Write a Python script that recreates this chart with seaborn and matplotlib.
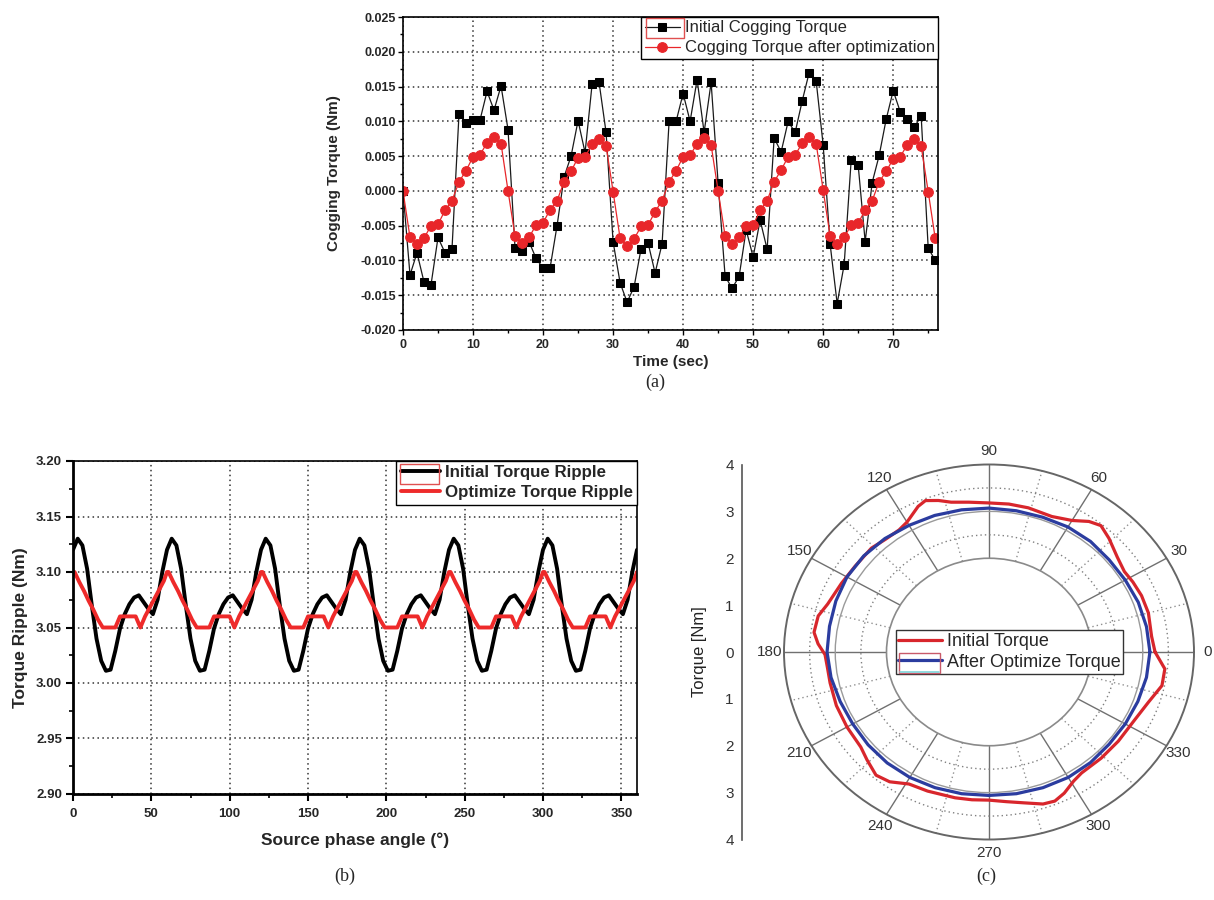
import numpy as np
import pandas as pd
import matplotlib
matplotlib.use("Agg")
import matplotlib.pyplot as plt
import seaborn as sns
from matplotlib.ticker import MultipleLocator, FixedLocator
from matplotlib.patches import Rectangle
from matplotlib.lines import Line2D

# ---------------- data: panel (a) ----------------
time_sec = [0, 1, 2, 3, 4, 5, 6, 7, 8, 9, 10, 11, 12, 13, 14, 15, 16, 17, 18, 19,
            20, 21, 22, 23, 24, 25, 26, 27, 28, 29, 30, 31, 32, 33, 34, 35, 36, 37, 38, 39,
            40, 41, 42, 43, 44, 45, 46, 47, 48, 49, 50, 51, 52, 53, 54, 55, 56, 57, 58, 59,
            60, 61, 62, 63, 64, 65, 66, 67, 68, 69, 70, 71, 72, 73, 74, 75, 76]
initial_cogging = [0.0000, -0.0121, -0.0089, -0.0131, -0.0135, -0.0067, -0.0089, -0.0083, 0.0111, 0.0098,
                   0.0102, 0.0102, 0.0143, 0.0116, 0.0151, 0.0088, -0.0082, -0.0086, -0.0073, -0.0097,
                   -0.0111, -0.0111, -0.0050, 0.0020, 0.0050, 0.0101, 0.0055, 0.0153, 0.0156, 0.0084,
                   -0.0073, -0.0132, -0.0160, -0.0138, -0.0083, -0.0075, -0.0118, -0.0076, 0.0100, 0.0100,
                   0.0140, 0.0100, 0.0160, 0.0084, 0.0156, 0.0011, -0.0123, -0.0140, -0.0123, -0.0056,
                   -0.0095, -0.0042, -0.0084, 0.0076, 0.0056, 0.0100, 0.0084, 0.0129, 0.0170, 0.0158,
                   0.0066, -0.0077, -0.0162, -0.0106, 0.0044, 0.0037, -0.0073, 0.0012, 0.0051, 0.0103,
                   0.0144, 0.0114, 0.0103, 0.0092, 0.0107, -0.0082, -0.0100]
optimized_cogging = [0.0000, -0.0067, -0.0077, -0.0068, -0.0050, -0.0048, -0.0028, -0.0014, 0.0013, 0.0029,
                     0.0049, 0.0052, 0.0069, 0.0078, 0.0068, 0.0000, -0.0065, -0.0075, -0.0067, -0.0049,
                     -0.0046, -0.0027, -0.0014, 0.0013, 0.0028, 0.0048, 0.0049, 0.0067, 0.0075, 0.0065,
                     -0.0001, -0.0068, -0.0079, -0.0069, -0.0051, -0.0049, -0.0030, -0.0014, 0.0013, 0.0029,
                     0.0049, 0.0051, 0.0068, 0.0076, 0.0066, 0.0000, -0.0065, -0.0076, -0.0067, -0.0050,
                     -0.0049, -0.0028, -0.0014, 0.0013, 0.0030, 0.0049, 0.0051, 0.0069, 0.0078, 0.0068,
                     0.0001, -0.0065, -0.0076, -0.0067, -0.0049, -0.0046, -0.0028, -0.0014, 0.0013, 0.0028,
                     0.0046, 0.0049, 0.0066, 0.0075, 0.0064, -0.0001, -0.0068]
a_xticks = [0, 10, 20, 30, 40, 50, 60, 70]
a_yticks = [-0.020, -0.015, -0.010, -0.005, 0.000, 0.005, 0.010, 0.015, 0.020, 0.025]
a_ytick_labels = ["-0.020", "-0.015", "-0.010", "-0.005", "0.000", "0.005", "0.010", "0.015", "0.020", "0.025"]

# ---------------- data: panel (b) ----------------
b_initial_angle = [0, 3, 6, 9, 12, 15, 18, 21, 24, 27, 30, 33, 36, 39, 42, 45, 48, 51, 54, 57,
                   60, 63, 66, 69, 72, 75, 78, 81, 84, 87, 90, 93, 96, 99, 102, 105, 108, 111, 114, 117,
                   120, 123, 126, 129, 132, 135, 138, 141, 144, 147, 150, 153, 156, 159, 162, 165, 168, 171, 174, 177,
                   180, 183, 186, 189, 192, 195, 198, 201, 204, 207, 210, 213, 216, 219, 222, 225, 228, 231, 234, 237,
                   240, 243, 246, 249, 252, 255, 258, 261, 264, 267, 270, 273, 276, 279, 282, 285, 288, 291, 294, 297,
                   300, 303, 306, 309, 312, 315, 318, 321, 324, 327, 330, 333, 336, 339, 342, 345, 348, 351, 354, 357,
                   360]
b_initial_ripple = [3.120, 3.130, 3.124, 3.103, 3.070, 3.040, 3.020, 3.011, 3.012, 3.029, 3.049, 3.062, 3.071, 3.077, 3.079, 3.073, 3.067, 3.062, 3.075, 3.100,
                    3.120, 3.130, 3.124, 3.103, 3.070, 3.040, 3.020, 3.011, 3.012, 3.029, 3.049, 3.062, 3.071, 3.077, 3.079, 3.073, 3.067, 3.062, 3.075, 3.100,
                    3.120, 3.130, 3.124, 3.103, 3.070, 3.040, 3.020, 3.011, 3.012, 3.029, 3.049, 3.062, 3.071, 3.077, 3.079, 3.073, 3.067, 3.062, 3.075, 3.100,
                    3.120, 3.130, 3.124, 3.103, 3.070, 3.040, 3.020, 3.011, 3.012, 3.029, 3.049, 3.062, 3.071, 3.077, 3.079, 3.073, 3.067, 3.062, 3.075, 3.100,
                    3.120, 3.130, 3.124, 3.103, 3.070, 3.040, 3.020, 3.011, 3.012, 3.029, 3.049, 3.062, 3.071, 3.077, 3.079, 3.073, 3.067, 3.062, 3.075, 3.100,
                    3.120, 3.130, 3.124, 3.103, 3.070, 3.040, 3.020, 3.011, 3.012, 3.029, 3.049, 3.062, 3.071, 3.077, 3.079, 3.073, 3.067, 3.062, 3.075, 3.100,
                    3.120]
b_optimized_angle = [0, 1, 4, 7, 10, 13, 16, 19, 27, 30, 40, 43, 46, 49, 52, 55, 58,
                     60, 61, 64, 67, 70, 73, 76, 79, 87, 90, 100, 103, 106, 109, 112, 115, 118,
                     120, 121, 124, 127, 130, 133, 136, 139, 147, 150, 160, 163, 166, 169, 172, 175, 178,
                     180, 181, 184, 187, 190, 193, 196, 199, 207, 210, 220, 223, 226, 229, 232, 235, 238,
                     240, 241, 244, 247, 250, 253, 256, 259, 267, 270, 280, 283, 286, 289, 292, 295, 298,
                     300, 301, 304, 307, 310, 313, 316, 319, 327, 330, 340, 343, 346, 349, 352, 355, 358,
                     360]
b_optimized_ripple = [3.100, 3.100, 3.091, 3.083, 3.074, 3.066, 3.057, 3.050, 3.050, 3.060, 3.060, 3.050, 3.060, 3.068, 3.076, 3.084, 3.092,
                      3.100, 3.100, 3.091, 3.083, 3.074, 3.066, 3.057, 3.050, 3.050, 3.060, 3.060, 3.050, 3.060, 3.068, 3.076, 3.084, 3.092,
                      3.100, 3.100, 3.091, 3.083, 3.074, 3.066, 3.057, 3.050, 3.050, 3.060, 3.060, 3.050, 3.060, 3.068, 3.076, 3.084, 3.092,
                      3.100, 3.100, 3.091, 3.083, 3.074, 3.066, 3.057, 3.050, 3.050, 3.060, 3.060, 3.050, 3.060, 3.068, 3.076, 3.084, 3.092,
                      3.100, 3.100, 3.091, 3.083, 3.074, 3.066, 3.057, 3.050, 3.050, 3.060, 3.060, 3.050, 3.060, 3.068, 3.076, 3.084, 3.092,
                      3.100, 3.100, 3.091, 3.083, 3.074, 3.066, 3.057, 3.050, 3.050, 3.060, 3.060, 3.050, 3.060, 3.068, 3.076, 3.084, 3.092,
                      3.100]
b_xticks = [0, 50, 100, 150, 200, 250, 300, 350]
b_yticks = [2.90, 2.95, 3.00, 3.05, 3.10, 3.15, 3.20]
b_ytick_labels = ["2.90", "2.95", "3.00", "3.05", "3.10", "3.15", "3.20"]

# ---------------- data: panel (c) ----------------
c_initial_theta = [0, 6, 15, 22, 28, 33, 39, 46, 51, 55, 60, 67, 76, 83, 90, 97, 103, 107, 111, 114, 120, 124,
                   130, 136, 145, 153, 162, 167, 173, 177, 181, 186, 192, 201, 210, 219, 224, 230, 235, 241, 248, 258, 264, 270,
                   276, 282, 288, 292, 296, 301, 305, 314, 323, 333, 341, 348, 354, 360]
c_initial_torque = [3.24, 3.19, 3.22, 3.21, 3.18, 3.15, 3.22, 3.37, 3.47, 3.40, 3.24, 3.14, 3.17, 3.18, 3.18, 3.22, 3.28, 3.38, 3.46, 3.40, 3.20, 3.14,
                    3.14, 3.19, 3.19, 3.23, 3.31, 3.42, 3.44, 3.34, 3.20, 3.17, 3.17, 3.19, 3.20, 3.22, 3.31, 3.43, 3.38, 3.22, 3.20, 3.18, 3.17, 3.16,
                    3.21, 3.29, 3.41, 3.43, 3.35, 3.21, 3.15, 3.15, 3.16, 3.19, 3.29, 3.45, 3.45, 3.24]
c_optimized_theta = [0, 10, 20, 30, 40, 50, 60, 70, 80, 90, 100, 110, 120, 130, 140, 150, 160, 170, 180,
                     190, 200, 210, 220, 230, 240, 250, 260, 270, 280, 290, 300, 310, 320, 330, 340, 350, 360]
c_optimized_torque = [3.14, 3.12, 3.10, 3.07, 3.06, 3.08, 3.08, 3.06, 3.06, 3.07, 3.08, 3.10, 3.12, 3.16, 3.19, 3.20, 3.18, 3.16, 3.16,
                      3.13, 3.09, 3.07, 3.08, 3.09, 3.09, 3.08, 3.07, 3.06, 3.07, 3.08, 3.09, 3.08, 3.06, 3.07, 3.09, 3.12, 3.14]
c_theta_ticks = [0, 30, 60, 90, 120, 150, 180, 210, 240, 270, 300, 330]
c_theta_minor = [15, 45, 75, 105, 135, 165, 195, 225, 255, 285, 315, 345]
c_theta_labels = ["0", "30", "60", "90", "120", "150", "180", "210", "240", "270", "300", "330"]
c_r_ticks = [-4, -3, -2, -1, 0, 1, 2, 3, 4]
c_r_labels = ["4", "3", "2", "1", "0", "1", "2", "3", "4"]

# ---------------- styling ----------------
sns.set_theme(style="white")
plt.rcParams["font.family"] = ["Liberation Sans", "DejaVu Sans"]
plt.rcParams["axes.unicode_minus"] = False

W, H = 1214, 900
fig = plt.figure(figsize=(W / 100, H / 100), dpi=100)
fig.patch.set_facecolor("white")


def box(l, t, r, b):
    return [l / W, 1 - b / H, (r - l) / W, (b - t) / H]


def frame_px(l, t, r, b, color, lw=1.0):
    fig.patches.append(Rectangle((l / W, 1 - b / H), (r - l) / W, (b - t) / H,
                                 transform=fig.transFigure, fill=False,
                                 edgecolor=color, lw=lw, zorder=20))


DOT = (0, (1.0, 2.2))

# ================= panel (a) =================
ax_a = fig.add_axes(box(403, 17, 938, 330))
df_a = pd.DataFrame({"time": time_sec, "init": initial_cogging, "opt": optimized_cogging})
sns.lineplot(data=df_a, x="time", y="init", ax=ax_a, color="#1a1a1a", lw=0.9, marker="s",
             markersize=6.3, markerfacecolor="black", markeredgecolor="black",
             estimator=None, label="Initial Cogging Torque")
sns.lineplot(data=df_a, x="time", y="opt", ax=ax_a, color="#e8262a", lw=0.9, marker="o",
             markersize=7.0, markerfacecolor="#e8262a", markeredgecolor="#e8262a",
             estimator=None, label="Cogging Torque after optimization")
ax_a.set_xlim(0, 76.4)
ax_a.set_ylim(-0.020, 0.025)
ax_a.set_xticks(a_xticks)
ax_a.set_xticklabels([str(v) for v in a_xticks], fontweight="bold", fontsize=9)
ax_a.set_yticks(a_yticks)
ax_a.set_yticklabels(a_ytick_labels, fontweight="bold", fontsize=9)
ax_a.xaxis.set_minor_locator(MultipleLocator(5))
ax_a.yaxis.set_minor_locator(MultipleLocator(0.0025))
ax_a.tick_params(which="major", direction="out", length=3.5, width=1, color="black",
                 top=False, right=False, bottom=True, left=True)
ax_a.tick_params(axis="x", which="major", pad=3)
ax_a.tick_params(axis="y", which="major", pad=1.5)
ax_a.tick_params(which="minor", direction="out", length=2, width=1, color="black",
                 top=False, right=False, bottom=True, left=True)
ax_a.grid(True, which="major", color="#333333", ls=DOT, lw=1.1)
ax_a.set_axisbelow(True)
for s in ax_a.spines.values():
    s.set_color("black")
    s.set_linewidth(1.2)
ax_a.set_xlabel("Time (sec)", fontweight="bold", fontsize=11, labelpad=3)
ax_a.set_ylabel("Cogging Torque (Nm)", fontweight="bold", fontsize=11, labelpad=14)
leg_a = ax_a.legend(loc="upper right", frameon=True, fancybox=False, edgecolor="black",
                    framealpha=1, fontsize=12, borderaxespad=0, handlelength=2.1,
                    borderpad=0.2, labelspacing=0.3, handletextpad=0.3)
leg_a.get_frame().set_linewidth(1.0)
frame_px(646, 18, 684, 38, "#e05050", 1.0)

# ================= panel (b) =================
ax_b = fig.add_axes(box(73, 461, 637, 794))
sns.lineplot(x=b_initial_angle, y=b_initial_ripple, ax=ax_b, color="black", lw=2.8,
             estimator=None, sort=False, label="Initial Torque Ripple")
sns.lineplot(x=b_optimized_angle, y=b_optimized_ripple, ax=ax_b, color="#ee2a2a", lw=2.8,
             estimator=None, sort=False, label="Optimize Torque Ripple")
ax_b.set_xlim(0, 360)
ax_b.set_ylim(2.90, 3.20)
ax_b.set_xticks(b_xticks)
ax_b.set_xticklabels([str(v) for v in b_xticks], fontweight="bold", fontsize=9.5)
ax_b.set_yticks(b_yticks)
ax_b.set_yticklabels(b_ytick_labels, fontweight="bold", fontsize=9.5)
ax_b.xaxis.set_minor_locator(MultipleLocator(25))
ax_b.yaxis.set_minor_locator(MultipleLocator(0.025))
ax_b.tick_params(which="major", direction="out", length=5, width=1.5, color="black",
                 top=False, right=False, bottom=True, left=True)
ax_b.tick_params(axis="x", which="major", pad=5)
ax_b.tick_params(axis="y", which="major", pad=3)
ax_b.tick_params(which="minor", direction="out", length=3, width=1.2, color="black",
                 top=False, right=False, bottom=True, left=True)
ax_b.grid(True, which="major", color="#333333", ls=DOT, lw=1.1)
ax_b.set_axisbelow(True)
for name, s in ax_b.spines.items():
    s.set_color("black")
    s.set_linewidth(2.0 if name in ("left", "bottom") else 1.2)
ax_b.set_xlabel("Source phase angle (\u00b0)", fontweight="bold", fontsize=12.5, labelpad=9)
ax_b.set_ylabel("Torque Ripple (Nm)", fontweight="bold", fontsize=12.5, labelpad=6)
leg_b = ax_b.legend(loc="upper right", frameon=True, fancybox=False, edgecolor="black",
                    framealpha=1, prop={"weight": "bold", "size": 12.2}, borderaxespad=0,
                    handlelength=2.3, borderpad=0.25, labelspacing=0.3, handletextpad=0.3)
leg_b.get_frame().set_linewidth(1.0)
frame_px(400, 464, 439, 484, "#e05050", 1.0)

# ================= panel (c) =================
ax_c = fig.add_axes(box(784, 464.5, 1194, 839.5), projection="polar")
ax_c.set_aspect("auto")
df_ci = pd.DataFrame({"theta": np.deg2rad(c_initial_theta), "r": c_initial_torque})
df_co = pd.DataFrame({"theta": np.deg2rad(c_optimized_theta), "r": c_optimized_torque})
sns.lineplot(data=df_ci, x="theta", y="r", ax=ax_c, color="#d8262c", lw=2.3,
             estimator=None, sort=False, label="Initial Torque")
sns.lineplot(data=df_co, x="theta", y="r", ax=ax_c, color="#2b3c9f", lw=2.3,
             estimator=None, sort=False, label="After Optimize Torque")
ax_c.set_rorigin(0)
ax_c.set_ylim(2, 4)
ax_c.set_xlabel("")
ax_c.set_ylabel("")
ax_c.set_xticks(np.deg2rad(c_theta_ticks))
ax_c.set_xticklabels(c_theta_labels, fontsize=11, color="#333333")
ax_c.xaxis.set_minor_locator(FixedLocator(np.deg2rad(c_theta_minor)))
ax_c.set_yticks([3])
ax_c.yaxis.set_minor_locator(FixedLocator([2.5, 3.5]))
ax_c.set_yticklabels([])
ax_c.tick_params(axis="x", which="both", length=0, pad=3)
ax_c.tick_params(axis="y", which="both", length=0)
ax_c.grid(True, which="major", axis="x", color="#707070", ls="-", lw=1.0)
ax_c.grid(True, which="minor", axis="x", color="#909090", ls=DOT, lw=1.0)
ax_c.grid(True, which="major", axis="y", color="#9a9a9a", ls="-", lw=1.0)
ax_c.grid(True, which="minor", axis="y", color="#808080", ls=DOT, lw=1.0)
ax_c.spines["polar"].set_color("#666666")
ax_c.spines["polar"].set_linewidth(1.4)
ax_c.spines["inner"].set_color("#8a8a8a")
ax_c.spines["inner"].set_linewidth(1.2)
ax_c.set_axisbelow(True)
leg_c = ax_c.legend(loc="center", bbox_to_anchor=(0.55, 0.5), frameon=True, fancybox=False,
                    edgecolor="#333333", framealpha=1, fontsize=13, handlelength=2.4,
                    borderpad=0.15, labelspacing=0.2, handletextpad=0.3, borderaxespad=0)
leg_c.get_frame().set_linewidth(1.0)
frame_px(899, 653, 940, 673, "#c85a6a", 1.0)
fig.lines.append(Line2D([900 / W, 939 / W], [1 - 671.5 / H, 1 - 671.5 / H],
                        transform=fig.transFigure, color="#7fd3d8", lw=1.2, zorder=21))

# left radial scale of (c)
ax_cl = fig.add_axes(box(742, 464.5, 752, 839.5))
ax_cl.patch.set_visible(False)
ax_cl.set_ylim(-4, 4)
ax_cl.set_xticks([])
ax_cl.set_yticks(c_r_ticks)
ax_cl.set_yticklabels(c_r_labels, fontsize=11, color="#333333")
ax_cl.yaxis.set_minor_locator(MultipleLocator(0.5))
ax_cl.tick_params(axis="y", which="major", direction="in", length=6, width=1, color="#555555", pad=6)
ax_cl.tick_params(axis="y", which="minor", direction="in", length=3, width=1, color="#555555")
for name, s in ax_cl.spines.items():
    s.set_visible(name == "left")
ax_cl.spines["left"].set_color("#555555")
ax_cl.spines["left"].set_linewidth(1.2)
ax_cl.set_ylabel("Torque [Nm]", fontsize=12, color="#222222", labelpad=13)

# panel captions
serif = ["Liberation Serif", "DejaVu Serif"]
fig.text(655 / W, 1 - 382 / H, "(a)", ha="center", va="center", fontsize=13, family=serif)
fig.text(345 / W, 1 - 876 / H, "(b)", ha="center", va="center", fontsize=13, family=serif)
fig.text(986 / W, 1 - 876 / H, "(c)", ha="center", va="center", fontsize=13, family=serif)

fig.savefig("out.png", dpi=100, facecolor="white")
